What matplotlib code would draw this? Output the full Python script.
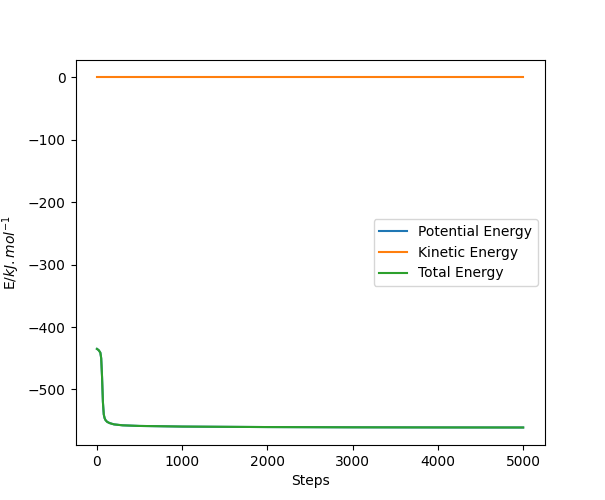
import matplotlib
matplotlib.use('Agg')
import matplotlib.pyplot as plt

# steps and energies
steps = [0, 20, 40, 50, 60, 70, 80, 90, 100, 120, 150, 200, 300, 500, 1000, 2000, 3000, 4000, 5000]
potential = [-435, -437, -441, -450, -480, -520, -540, -546, -549, -552, -554, -556, -557.5, -558.5, -559.5, -560.3, -560.7, -560.9, -561]
kinetic = [0] * len(steps)
total = [p + k for p, k in zip(potential, kinetic)]

fig, ax = plt.subplots(figsize=(6.05, 5), dpi=100)
ax.plot(steps, potential, label='Potential Energy')
ax.plot(steps, kinetic, label='Kinetic Energy')
ax.plot(steps, total, label='Total Energy')
ax.set_xlabel('Steps')
ax.set_ylabel('E/$kJ.mol^{-1}$')
ax.legend(loc='center right')

fig.savefig('out.png', dpi=100)
